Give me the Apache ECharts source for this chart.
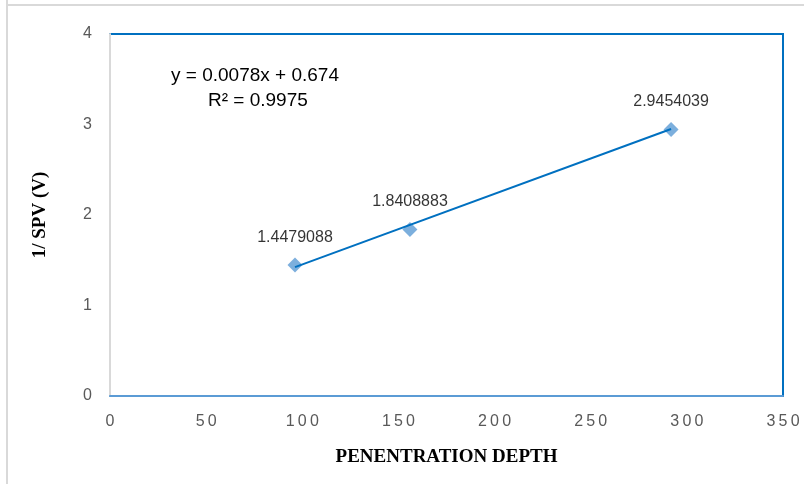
<!DOCTYPE html>
<html>
<head>
<meta charset="utf-8">
<script src="https://cdn.jsdelivr.net/npm/echarts@6/dist/echarts.min.js"></script>
<style>html,body{margin:0;padding:0;background:#fff}#c{width:804px;height:484px}</style>
</head>
<body>
<div id="c"></div>
<script>
var xValues = [96.2, 156.0, 291.8];
var yValues = [1.4479088, 1.8408883, 2.9454039];
var pointLabels = ['1.4479088', '1.8408883', '2.9454039'];
var slope = 0.0078, intercept = 0.674;
var equationText = 'y = 0.0078x + 0.674';
var r2Text = 'R² = 0.9975';
var xTitle = 'PENENTRATION DEPTH';
var yTitle = '1/ SPV (V)';

var pts = xValues.map(function (x, i) { return [x, yValues[i]]; });
var xMinD = Math.min.apply(null, xValues), xMaxD = Math.max.apply(null, xValues);
var trend = [[xMinD, slope * xMinD + intercept], [xMaxD, slope * xMaxD + intercept]];

var chart = echarts.init(document.getElementById('c'));
chart.setOption({
  animation: false,
  grid: { left: 110, right: 21, top: 34, bottom: 88, show: true, borderColor: '#0070C0', borderWidth: 2, backgroundColor: '#fff' },
  xAxis: {
    type: 'value', min: 0, max: 350, interval: 50,
    name: xTitle, nameLocation: 'middle', nameGap: 52,
    nameTextStyle: { fontFamily: 'Liberation Serif', fontWeight: 'bold', fontSize: 19, color: '#000' },
    axisLine: { show: true, lineStyle: { color: '#5B9BD5', width: 2 } },
    axisTick: { show: false },
    splitLine: { show: false },
    axisLabel: { color: '#595959', fontSize: 16, fontFamily: 'Liberation Sans', margin: 18,
      formatter: function (v) { return String(v).split('').join('\u2009'); } }
  },
  yAxis: {
    type: 'value', min: 0, max: 4, interval: 1,
    name: yTitle, nameLocation: 'middle', nameGap: 60, nameRotate: 90,
    nameTextStyle: { fontFamily: 'Liberation Serif', fontWeight: 'bold', fontSize: 19, color: '#000' },
    axisLine: { show: true, lineStyle: { color: '#D9D9D9', width: 2 } },
    axisTick: { show: false },
    splitLine: { show: false },
    axisLabel: { color: '#595959', fontSize: 16, fontFamily: 'Liberation Sans', margin: 18 }
  },
  graphic: [
    { type: 'line', shape: { x1: 7, y1: 0, x2: 7, y2: 484 }, style: { stroke: '#D9D9D9', lineWidth: 2 } },
    { type: 'line', shape: { x1: 7, y1: 5, x2: 804, y2: 5 }, style: { stroke: '#D9D9D9', lineWidth: 2 } },
    { type: 'text', left: 171, top: 66, style: { text: equationText, font: '19px "Liberation Sans"', fill: '#000' } },
    { type: 'text', left: 208, top: 91, style: { text: r2Text, font: '19px "Liberation Sans"', fill: '#000' } }
  ],
  series: [
    {
      type: 'line', data: trend, symbol: 'none', silent: true,
      lineStyle: { color: '#0070C0', width: 2 }, z: 3
    },
    {
      type: 'scatter', data: pts, symbol: 'diamond', symbolSize: 15,
      itemStyle: { color: '#5B9BD5' }, z: 2,
      label: {
        show: true, position: 'top', distance: 12,
        formatter: function (p) { return pointLabels[p.dataIndex]; },
        color: '#000', fontSize: 16, fontFamily: 'Liberation Sans'
      }
    }
  ]
});
</script>
</body>
</html>
